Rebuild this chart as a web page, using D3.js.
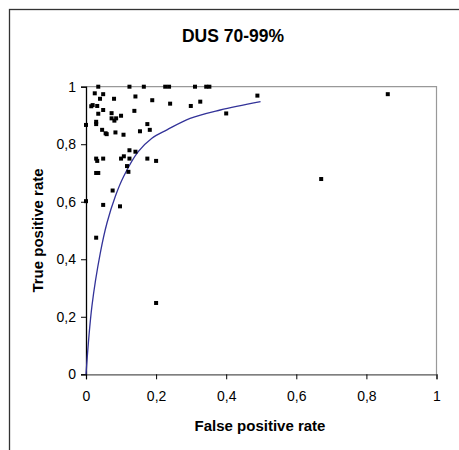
<!DOCTYPE html>
<html>
<head>
<meta charset="utf-8">
<script src="https://cdn.jsdelivr.net/npm/d3@7"></script>
<style>
  body { margin: 0; background: #fff; }
  text { font-family: "Liberation Sans", Arial, sans-serif; fill: #000; }
</style>
</head>
<body>
<div id="chart"></div>
<script>
// study points (false positive rate, true positive rate)
const fpr = [0.035, 0.124, 0.165, 0.226, 0.237, 0.311, 0.343, 0.352,
  0.025, 0.049, 0.04, 0.08, 0.141, 0.189, 0.24, 0.299, 0.326,
  0.019, 0.015, 0.032, 0.049, 0.035, 0.138, 0.073, 0.1, 0.073, 0.086, 0.081,
  0.029, 0.029, 0.0, 0.175, 0.046, 0.056, 0.059, 0.084, 0.107, 0.154, 0.182,
  0.124, 0.141, 0.029, 0.032, 0.049, 0.1, 0.108, 0.124, 0.175, 0.2,
  0.117, 0.121, 0.029, 0.035, 0.076, 0.4, 0.489, 0.861, 0.671,
  0.0, 0.049, 0.097, 0.029, 0.2];
const tpr = [1.0, 1.0, 1.0, 1.0, 1.0, 1.0, 1.0, 1.0,
  0.977, 0.974, 0.958, 0.958, 0.966, 0.953, 0.941, 0.933, 0.948,
  0.936, 0.932, 0.933, 0.919, 0.906, 0.916, 0.908, 0.899, 0.89, 0.89, 0.882,
  0.878, 0.87, 0.867, 0.87, 0.85, 0.838, 0.835, 0.841, 0.833, 0.845, 0.85,
  0.779, 0.774, 0.75, 0.742, 0.75, 0.75, 0.758, 0.75, 0.75, 0.742,
  0.724, 0.704, 0.7, 0.7, 0.639, 0.907, 0.969, 0.974, 0.679,
  0.602, 0.589, 0.584, 0.475, 0.248];

// summary ROC curve
const curveFpr = [0, 0.017, 0.041, 0.06, 0.084, 0.107, 0.149, 0.188, 0.231, 0.297, 0.383, 0.498];
const curveTpr = [0, 0.238, 0.423, 0.527, 0.62, 0.687, 0.774, 0.821, 0.85, 0.89, 0.919, 0.948];

const xTicks = [0, 0.2, 0.4, 0.6, 0.8, 1];
const yTicks = [0, 0.2, 0.4, 0.6, 0.8, 1];

const W = 459, H = 450;
const plot = {left: 86, right: 436.5, top: 86.7, bottom: 374.3};

const svg = d3.select("#chart").append("svg").attr("width", W).attr("height", H);

svg.append("rect").attr("width", W).attr("height", H).attr("fill", "#fff");
// outer chart frame (runs off right and bottom)
svg.append("rect")
  .attr("x", 9.5).attr("y", 9.5).attr("width", 480).attr("height", 480)
  .attr("fill", "none").attr("stroke", "#333").attr("stroke-width", 1.3);

const x = d3.scaleLinear().domain([0, 1]).range([plot.left, plot.right]);
const y = d3.scaleLinear().domain([0, 1]).range([plot.bottom, plot.top]);
const fmt = d => String(d).replace(".", ",");

// plot area border (top/right gray)
svg.append("path")
  .attr("d", `M${plot.left},${plot.top}H${plot.right}V${plot.bottom}`)
  .attr("fill", "none").attr("stroke", "#999").attr("stroke-width", 1.2);

const xAxis = svg.append("g")
  .attr("transform", `translate(0,${plot.bottom})`)
  .call(d3.axisBottom(x).tickValues(xTicks).tickFormat(fmt).tickSize(5).tickPadding(12));
xAxis.select(".domain").attr("stroke", "#555").attr("stroke-width", 1.3);
xAxis.selectAll(".tick line").attr("stroke", "#000");
xAxis.selectAll("text").style("font-size", "14px").attr("fill", "#000");

const yAxis = svg.append("g")
  .attr("transform", `translate(${plot.left},0)`)
  .call(d3.axisLeft(y).tickValues(yTicks).tickFormat(fmt).tickSize(5).tickPadding(5));
yAxis.select(".domain").attr("stroke", "#000").attr("stroke-width", 1.3);
yAxis.selectAll(".tick line").attr("stroke", "#000");
yAxis.selectAll("text").style("font-size", "14px").attr("fill", "#000");

// curve
const curvePts = curveFpr.map((v, i) => [v, curveTpr[i]]);
svg.append("path")
  .datum(curvePts)
  .attr("d", d3.line().x(d => x(d[0])).y(d => y(d[1])).curve(d3.curveCatmullRom))
  .attr("fill", "none").attr("stroke", "#333399").attr("stroke-width", 1.3);

// points
const pts = fpr.map((v, i) => [v, tpr[i]]);
svg.selectAll("rect.pt").data(pts).enter().append("rect")
  .attr("class", "pt")
  .attr("x", d => x(d[0]) - 2).attr("y", d => y(d[1]) - 2)
  .attr("width", 4).attr("height", 4)
  .attr("fill", "#000");

// titles
svg.append("text").attr("x", 233).attr("y", 42).attr("text-anchor", "middle")
  .style("font-size", "17.5px").style("font-weight", "bold").text("DUS 70-99%");
svg.append("text").attr("x", 260).attr("y", 431).attr("text-anchor", "middle")
  .style("font-size", "15px").style("font-weight", "bold").text("False positive rate");
svg.append("text")
  .attr("transform", `translate(43,${(plot.top + plot.bottom) / 2}) rotate(-90)`)
  .attr("text-anchor", "middle")
  .style("font-size", "15px").style("font-weight", "bold").text("True positive rate");
</script>
</body>
</html>
